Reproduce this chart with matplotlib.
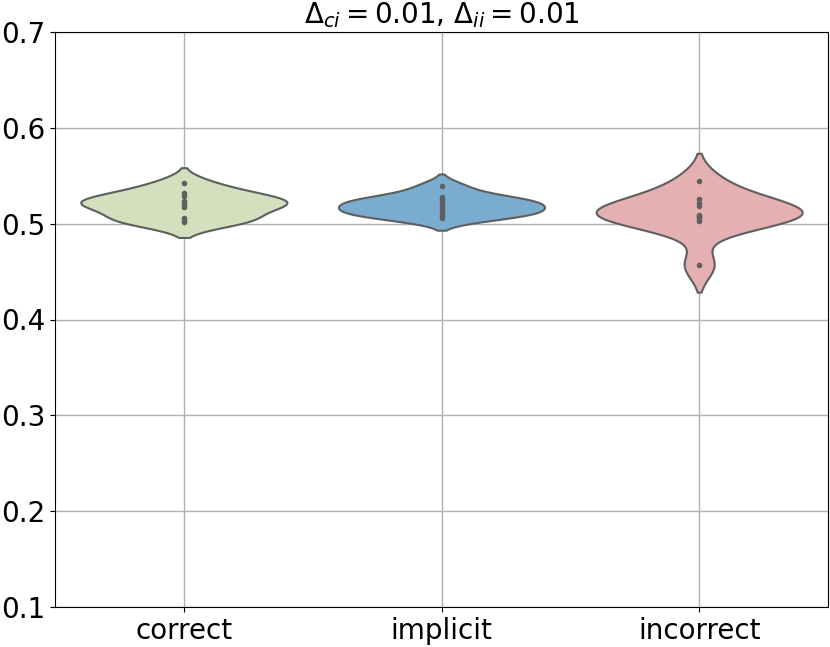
import matplotlib
matplotlib.use("Agg")
import matplotlib.pyplot as plt
import seaborn as sns
import pandas as pd

categories = ["correct", "implicit", "incorrect"]
correct_vals = [0.542, 0.5316, 0.529, 0.5235, 0.521, 0.519, 0.5176, 0.5055, 0.5035, 0.502]
implicit_vals = [0.539, 0.528, 0.526, 0.523, 0.520, 0.517, 0.514, 0.511, 0.508, 0.506]
incorrect_vals = [0.545, 0.526, 0.522, 0.518, 0.509, 0.507, 0.505, 0.503, 0.508, 0.457]
colors = ["#d3dfbd", "#7aaccf", "#e4b0b1"]
yticks = [0.1, 0.2, 0.3, 0.4, 0.5, 0.6, 0.7]

df = pd.DataFrame({
    "cat": ["correct"] * len(correct_vals) + ["implicit"] * len(implicit_vals) + ["incorrect"] * len(incorrect_vals),
    "val": correct_vals + implicit_vals + incorrect_vals,
})

fig = plt.figure(figsize=(8.3, 6.47), dpi=100)
ax = fig.add_subplot(111)
fig.subplots_adjust(left=55/830, right=828/830, top=1-32/647, bottom=1-607/647)

sns.violinplot(data=df, x="cat", y="val", hue="cat", order=categories, hue_order=categories,
               palette=colors, saturation=1, inner="point", density_norm="width",
               linecolor="#5f5f5f", linewidth=1.5, legend=False, ax=ax)

ax.set_ylim(0.1, 0.7)
ax.set_yticks(yticks)
ax.grid(True, color="#b0b0b0", linewidth=1)
ax.set_axisbelow(True)
ax.set_xlabel("")
ax.set_ylabel("")
ax.tick_params(labelsize=20)
ax.set_title(r"$\Delta_{ci} = 0.01$, $\Delta_{ii} = 0.01$", fontsize=20, pad=6)
fig.savefig("out.png", dpi=100)
